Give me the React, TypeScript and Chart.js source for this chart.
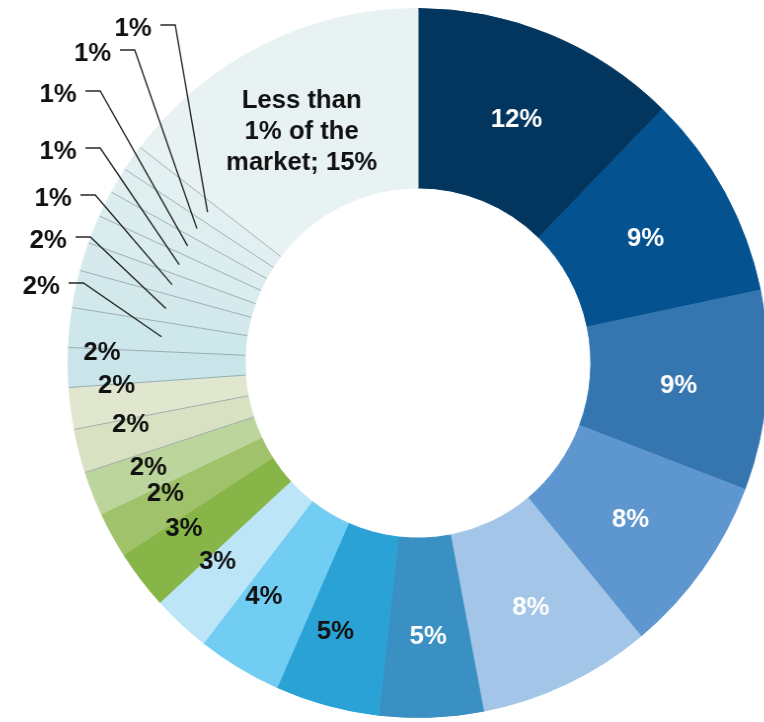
import React, { useEffect, useRef } from "react";
import { Chart, registerables } from "chart.js";

Chart.register(...registerables);

// ---------- data ----------
const categories = [
  "Player 1", "Player 2", "Player 3", "Player 4", "Player 5", "Player 6",
  "Player 7", "Player 8", "Player 9", "Player 10", "Player 11", "Player 12",
  "Player 13", "Player 14", "Player 15", "Player 16", "Player 17", "Player 18",
  "Player 19", "Player 20", "Player 21", "Player 22", "Less than 1% of the market",
];

const shareValues = [
  12.3, 9.4, 9.1, 8.2, 8.0, 4.8, 4.8, 3.9, 2.7, 2.7, 2.1, 2.0,
  2.0, 1.9, 1.8, 1.8, 1.7, 1.3, 1.3, 1.2, 1.2, 1.2, 14.6,
];

const otherLabelLines = ["Less than", "1% of the", "market;"];

// ---------- styles ----------
const sliceColors = [
  "#03365f", "#045290", "#3676b0", "#5e97cf", "#a3c6e8", "#3a8fc3",
  "#2ba2d6", "#72cdf2", "#bde5f8", "#88b548", "#a0c26a", "#bcd59c",
  "#d8e2c3", "#e1e7cf", "#cae5e9", "#cee7ea", "#d2e8eb", "#d6eaed",
  "#d9ecee", "#dcedef", "#dfeff0", "#e2f0f1", "#e8f2f3",
];
const whiteLabelCount = 6;
const separatorFrom = 12;
const separatorColor = "rgba(130,150,155,0.7)";

// label layout: angular nudge (% of circle) and position across the ring (0 inner, 1 outer)
const labelAngleShift = [
  0, 0, 0, 0, 0, 0, 0.65, 0.9, 0.9, 0.85, 0.65, 0.3,
  0.8, 0.95, 0.8, 0, 0, 0, 0, 0, 0, 0, -0.15,
];
const labelRingPos = [
  0.5, 0.49, 0.5, 0.5, 0.52, 0.54, 0.58, 0.58, 0.6, 0.63, 0.62, 0.65,
  0.68, 0.73, 0.81, 0.48, 0.48, 0.48, 0.48, 0.48, 0.48, 0.48, 0.48,
];
// callout elbows relative to the chart centre (null = label inside the slice)
const calloutElbows: ([number, number] | null)[] = [
  null, null, null, null, null, null, null, null, null, null, null, null,
  null, null, null,
  [-339, -80], [-332, -126], [-327, -168], [-322, -215], [-322, -272],
  [-287, -313], [-246, -338],
  null,
];

const FONT_SIZE = 26;
const FONT = `bold ${FONT_SIZE}px "Liberation Sans", Arial, sans-serif`;

const sliceLabelPlugin = {
  id: "sliceLabels",
  afterDatasetsDraw(chart: any) {
    const ctx: CanvasRenderingContext2D = chart.ctx;
    const arcs = chart.getDatasetMeta(0).data;
    const total = shareValues.reduce((a, b) => a + b, 0);
    const capHalf = FONT_SIZE * 0.358;

    ctx.save();
    // separators between the light slices
    ctx.strokeStyle = separatorColor;
    ctx.lineWidth = 1;
    arcs.forEach((arc: any, i: number) => {
      if (i < separatorFrom) return;
      const p = arc.getProps(["x", "y", "startAngle", "innerRadius", "outerRadius"], true);
      const c = Math.cos(p.startAngle);
      const s = Math.sin(p.startAngle);
      ctx.beginPath();
      ctx.moveTo(p.x + c * p.innerRadius, p.y + s * p.innerRadius);
      ctx.lineTo(p.x + c * p.outerRadius, p.y + s * p.outerRadius);
      ctx.stroke();
    });

    ctx.font = FONT;
    arcs.forEach((arc: any, i: number) => {
      const p = arc.getProps(
        ["x", "y", "startAngle", "endAngle", "innerRadius", "outerRadius"],
        true
      );
      const mid = (p.startAngle + p.endAngle) / 2;
      const pct = Math.round((shareValues[i] / total) * 100) + "%";
      const elbow = calloutElbows[i];
      if (elbow) {
        const r = p.innerRadius + labelRingPos[i] * (p.outerRadius - p.innerRadius);
        const ex = p.x + Math.cos(mid) * r;
        const ey = p.y + Math.sin(mid) * r;
        const bx = p.x + elbow[0];
        const by = p.y + elbow[1];
        ctx.strokeStyle = "#262626";
        ctx.lineWidth = 1.4;
        ctx.beginPath();
        ctx.moveTo(bx - 15, by);
        ctx.lineTo(bx, by);
        ctx.lineTo(ex, ey);
        ctx.stroke();
        ctx.fillStyle = "#111111";
        ctx.textAlign = "right";
        ctx.textBaseline = "alphabetic";
        ctx.fillText(pct, bx - 24, by + 2 + capHalf);
        return;
      }
      const a = mid + (labelAngleShift[i] / 100) * Math.PI * 2;
      const r = p.innerRadius + labelRingPos[i] * (p.outerRadius - p.innerRadius);
      const lx = p.x + Math.cos(a) * r;
      const ly = p.y + Math.sin(a) * r;
      ctx.fillStyle = i < whiteLabelCount ? "#ffffff" : "#111111";
      ctx.textAlign = "center";
      ctx.textBaseline = "alphabetic";
      if (i === shareValues.length - 1) {
        const lines = [otherLabelLines[0], otherLabelLines[1], otherLabelLines[2] + " " + pct];
        const lh = 31;
        lines.forEach((t, k) => {
          ctx.fillText(t, lx, ly + (k - 1) * lh + capHalf);
        });
      } else {
        ctx.fillText(pct, lx, ly + capHalf);
      }
    });
    ctx.restore();
  },
};

export default function App() {
  const ref = useRef<HTMLCanvasElement>(null);
  useEffect(() => {
    const chart = new Chart(ref.current as HTMLCanvasElement, {
      type: "doughnut",
      data: {
        labels: categories,
        datasets: [
          {
            data: shareValues,
            backgroundColor: sliceColors,
            borderColor: sliceColors,
            borderWidth: 1,
          },
        ],
      },
      options: {
        responsive: false,
        animation: false,
        cutout: "49.4%",
        layout: { padding: 8 },
        plugins: {
          legend: { display: false },
          tooltip: { enabled: false },
        },
      },
      plugins: [sliceLabelPlugin],
    } as any);
    return () => chart.destroy();
  }, []);

  return (
    <div
      style={{
        position: "fixed",
        left: 0,
        top: 0,
        width: 764,
        height: 722,
        overflow: "hidden",
        background: "#ffffff",
      }}
    >
      <canvas
        ref={ref}
        width={836}
        height={726}
        style={{
          display: "block",
          width: 836,
          height: 726,
          transform: "scaleX(0.987)",
          transformOrigin: "418px 0",
        }}
      />
    </div>
  );
}
